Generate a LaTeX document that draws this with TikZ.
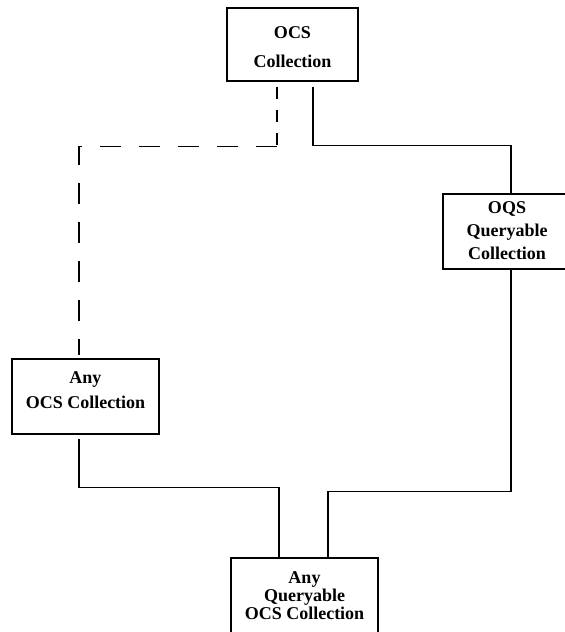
\documentclass[tikz,border=0pt]{standalone}
\usepackage{fontspec}
\setmainfont{Liberation Serif}
\usetikzlibrary{calc}
\tikzset{
  box/.style={draw, line width=1.2pt, rectangle, inner sep=0pt},
  lbl/.style={anchor=base, inner sep=0pt, font=\bfseries\fontsize{18}{20}\selectfont},
  link/.style={line width=1.2pt},
  dlink/.style={line width=1.2pt, dash pattern=on 21pt off 18pt},
  dlinkshort/.style={line width=1.2pt, dash pattern=on 12pt off 11pt}
}
\begin{document}
\begin{tikzpicture}[x=1pt,y=-1pt]
\useasboundingbox (0,0) rectangle (565,632);
% boxes
\node[box, minimum width=131pt, minimum height=73pt] (ocs) at (292.5,44.5) {};
\node[box, minimum width=136pt, minimum height=75pt] (oqs) at (511,231.5) {};
\node[box, minimum width=147pt, minimum height=75pt] (anyocs) at (85.5,396.5) {};
\node[box, minimum width=147pt, minimum height=95pt] (anyq) at (304.5,605.5) {};
% labels
\node[lbl] (t1) at (292.5,38) {OCS};
\node[lbl] (t2) at (292.5,67) {Collection};
\node[lbl] (t3) at (507,213) {OQS};
\node[lbl] (t4) at (507,236) {Queryable};
\node[lbl] (t5) at (507,259) {Collection};
\node[lbl] (t6) at (85.5,383) {Any};
\node[lbl] (t7) at (85.5,408) {OCS Collection};
\node[lbl] (t8) at (304.5,583) {Any};
\node[lbl] (t9) at (304.5,601) {Queryable};
\node[lbl] (t10) at (304.5,619) {OCS Collection};
% connectors
\draw[link] ($(ocs.south)+(20.5,5)$) |- ($(oqs.north)+(0,-48)$) -- (oqs.north);
\draw[link] (oqs.south) |- ($(anyq.north)+(23.5,-66)$) -- ($(anyq.north)+(23.5,0)$);
\draw[link] ($(anyocs.south)+(-6.5,4)$) |- ($(anyq.north)+(-25.5,-70)$) -- ($(anyq.north)+(-25.5,0)$);
\coordinate (dk) at ($(ocs.south)+(-15.5,65)$);
\draw[dlinkshort] ($(ocs.south)+(-15.5,5)$) -- (dk);
\draw[dlink] (dk) -| ($(anyocs.north)+(-6.5,-3)$);
\end{tikzpicture}
\end{document}
